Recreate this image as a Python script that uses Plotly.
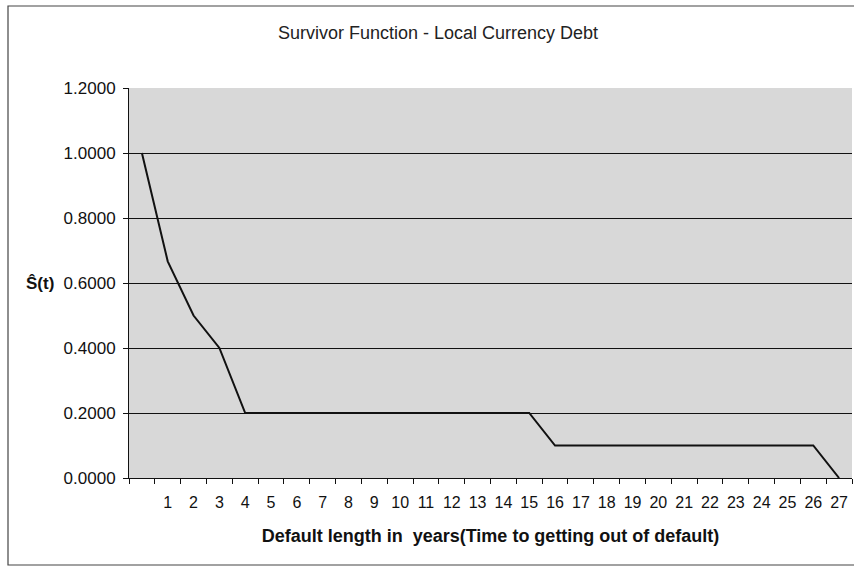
import plotly.graph_objects as go

# Kaplan-Meier style survivor estimates by default length (years)
year_labels = [""] + [str(y) for y in range(1, 28)]
survival = [1.0, 0.6667, 0.5, 0.4] + [0.2] * 12 + [0.1] * 11 + [0.0]

W, H = 854, 567
L, R, T, B = 129, 2, 88, 89
pw = W - L - R
ph = H - T - B

fig = go.Figure()
fig.add_trace(go.Scatter(
    x=year_labels, y=survival, mode="lines",
    line=dict(color="#111111", width=2),
    hoverinfo="skip", showlegend=False,
))

font = "Liberation Sans, Arial, sans-serif"

fig.update_layout(
    width=W, height=H,
    margin=dict(l=L, r=R, t=T, b=B),
    paper_bgcolor="white",
    plot_bgcolor="#d8d8d8",
    font=dict(family=font, color="#111111", size=16),
    title=dict(text="Survivor Function - Local Currency Debt",
               x=(438 - L) / pw, xref="paper", xanchor="center",
               y=1 - 33 / H, yanchor="middle",
               font=dict(size=18, family=font, color="#222222")),
    xaxis=dict(
        type="category", categoryorder="array", categoryarray=year_labels,
        range=[-0.5, 27.5], tickson="boundaries",
        ticks="outside", ticklen=5, tickcolor="#111111",
        tickangle=0, ticklabelstandoff=10,
        showgrid=False, showline=True, linecolor="#111111", linewidth=1,
        tickfont=dict(size=16), zeroline=False,
        title=dict(text="<b>Default length in  years(Time to getting out of default)</b>",
                   font=dict(size=18), standoff=19),
    ),
    yaxis=dict(
        range=[0, 1.2], dtick=0.2, tickformat=".4f",
        ticks="outside", ticklen=5, tickcolor="#111111",
        ticklabelstandoff=4,
        showgrid=True, gridcolor="#111111", gridwidth=1,
        showline=True, linecolor="#111111", linewidth=1,
        zeroline=False, tickfont=dict(size=17),
    ),
)

# y-axis label drawn horizontally beside the 0.6 tick
fig.add_annotation(text="<b>Ŝ(t)</b>", xref="paper", yref="y",
                   x=(40 - L) / pw, y=0.6, showarrow=False,
                   xanchor="center", yanchor="middle",
                   font=dict(size=17, family=font))

# outer chart frame
fig.add_shape(type="rect", xref="paper", yref="paper",
              x0=(8 - L) / pw, x1=(W + 5 - L) / pw,
              y0=-(565 - T - ph) / ph, y1=1 + (T - 6) / ph,
              line=dict(color="#444444", width=1.2), layer="below")

fig.write_html("out.html")
